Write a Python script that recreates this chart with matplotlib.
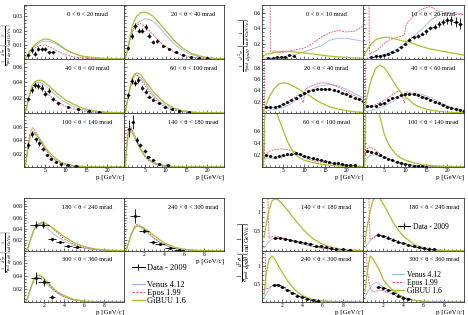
import numpy as np
import matplotlib.pyplot as plt
from matplotlib.lines import Line2D
from matplotlib.ticker import AutoMinorLocator, FormatStrFormatter

plt.rcParams['font.family'] = ['Liberation Serif', 'DejaVu Serif']
plt.rcParams['mathtext.fontset'] = 'stix'

nan = np.nan

# momentum grids used by the model curves
p_tl = [0.3, 0.6, 1, 1.5, 2, 2.5, 3, 4, 5, 6, 7, 8, 9, 10, 12, 14, 16, 18, 20, 22, 24]
p_tr = [0.3, 0.6, 1, 1.5, 2, 3, 4, 5, 6, 7, 8, 9, 9.8, 10.3, 11, 12, 13, 14, 16, 18, 20, 22, 24]
p_bot = [0.2, 0.4, 0.7, 1.0, 1.3, 1.6, 2.0, 2.5, 3.0, 3.5, 4.0, 5.0, 6.0, 7.0, 8.0, 9.0, 10.0]

# ---------------- top left group ----------------
# 0 < theta < 20 mrad
tl1_gibuu = [0, 0.0018, 0.004, 0.006, 0.008, 0.0095, 0.011, 0.013, 0.014, 0.0138, 0.0125, 0.011, 0.0088, 0.0068, 0.0038, 0.002, 0.0012, 0.0006, 0.0003, 0.0001, 0]
tl1_venus = [0, 0.0015, 0.0035, 0.0053, 0.0072, 0.0087, 0.010, 0.0118, 0.0126, 0.0125, 0.0115, 0.010, 0.0082, 0.0064, 0.0036, 0.0019, 0.001, 0.0005, 0.0002, 0.0001, 0]
tl1_epos = [0, 0.0013, 0.003, 0.0045, 0.006, 0.0073, 0.0085, 0.0096, 0.0098, 0.0088, 0.0072, 0.0056, 0.0042, 0.003, 0.0015, 0.0007, 0.0003, 0.0001, 0, 0, 0]
tl1_p = [1.0, 1.8, 2.6, 3.4, 4.2, 5.0, 6.0, 7.0]
tl1_y = [0.0025, 0.0064, 0.0038, 0.0070, 0.0070, 0.0070, 0.0046, 0.0046]
tl1_ey = [0.0012, 0.0022, 0.0015, 0.0015, 0.0015, 0.0015, 0.0012, 0.0012]

# 20 < theta < 40 mrad
tl2_gibuu = [0, 0.004, 0.009, 0.016, 0.023, 0.027, 0.030, 0.0325, 0.033, 0.032, 0.030, 0.027, 0.0235, 0.020, 0.013, 0.0078, 0.0042, 0.0022, 0.001, 0.0004, 0.0001]
tl2_venus = [0, 0.0035, 0.008, 0.0135, 0.019, 0.0225, 0.025, 0.027, 0.0282, 0.028, 0.0265, 0.024, 0.0205, 0.017, 0.0108, 0.0062, 0.0033, 0.0016, 0.0007, 0.0003, 0.0001]
tl2_epos = [0, 0.0035, 0.008, 0.014, 0.019, 0.022, 0.024, 0.025, 0.023, 0.020, 0.017, 0.014, 0.011, 0.0085, 0.005, 0.0028, 0.0015, 0.0007, 0.0003, 0.0001, 0]
tl2_p = [0.9, 1.8, 2.6, 3.6, 4.4, 5.2, 6.0, 6.9, 8.0, 9.4, 10.9, 12.5, 14.2, 16.0, 18.0, 20.0]
tl2_y = [0.0075, 0.016, 0.023, 0.020, 0.020, 0.0225, 0.0165, 0.0122, 0.0128, 0.0092, 0.007, 0.005, 0.0028, 0.0013, 0.0007, 0.0004]
tl2_ey = [0.0015, 0.002, 0.002, 0.002, 0.002, 0.002, 0.002, 0.0015, 0.0012, 0.001, 0.0008, 0.0006, 0.0005, 0.0004, 0.0003, 0.0003]

# 40 < theta < 60 mrad
tl3_gibuu = [0, 0.008, 0.017, 0.028, 0.036, 0.040, 0.042, 0.0425, 0.0395, 0.035, 0.030, 0.025, 0.021, 0.017, 0.011, 0.0065, 0.0037, 0.002, 0.001, 0.0005, 0.0002]
tl3_venus = [0, 0.007, 0.015, 0.025, 0.033, 0.037, 0.039, 0.0395, 0.036, 0.031, 0.026, 0.021, 0.017, 0.0135, 0.008, 0.0045, 0.0024, 0.0012, 0.0006, 0.0003, 0.0001]
tl3_epos = [0, 0.007, 0.016, 0.025, 0.032, 0.034, 0.035, 0.032, 0.028, 0.023, 0.019, 0.015, 0.0115, 0.0088, 0.005, 0.0027, 0.0014, 0.0007, 0.0003, 0.0001, 0]
tl3_p = [1.0, 1.8, 2.6, 3.4, 4.2, 5.0, 5.9, 6.9, 8.2, 10.6, 13.0, 15.5, 18.0]
tl3_y = [0.018, 0.030, 0.036, 0.035, 0.033, 0.025, 0.029, 0.018, 0.0126, 0.0074, 0.0048, 0.002, 0.001]
tl3_ey = [0.003, 0.004, 0.004, 0.004, 0.004, 0.003, 0.003, 0.003, 0.002, 0.0012, 0.001, 0.0008, 0.0006]

# 60 < theta < 100 mrad
tl4_gibuu = [0, 0.009, 0.021, 0.034, 0.045, 0.050, 0.052, 0.050, 0.042, 0.035, 0.028, 0.022, 0.017, 0.0125, 0.0065, 0.003, 0.0014, 0.0006, 0.0003, 0.0001, 0]
tl4_venus = [0, 0.009, 0.020, 0.032, 0.042, 0.047, 0.049, 0.046, 0.039, 0.031, 0.024, 0.018, 0.0135, 0.0098, 0.005, 0.0024, 0.0011, 0.0005, 0.0002, 0.0001, 0]
tl4_epos = [0, 0.010, 0.022, 0.035, 0.046, 0.050, 0.050, 0.044, 0.036, 0.028, 0.021, 0.015, 0.011, 0.0075, 0.0036, 0.0016, 0.0007, 0.0003, 0.0001, 0, 0]
tl4_p = [1.0, 1.8, 2.6, 3.4, 4.4, 5.2, 6.0, 7.0, 8.4, 9.8, 11.4, 13.3, 15.5]
tl4_y = [0.023, 0.042, 0.039, 0.043, 0.033, 0.0276, 0.021, 0.017, 0.0126, 0.0082, 0.0056, 0.003, 0.0015]
tl4_ey = [0.003, 0.004, 0.004, 0.004, 0.003, 0.003, 0.002, 0.002, 0.0015, 0.0012, 0.001, 0.0008, 0.0006]

# 100 < theta < 140 mrad
tl5_gibuu = [0, 0.012, 0.030, 0.045, 0.051, 0.050, 0.048, 0.040, 0.030, 0.022, 0.016, 0.011, 0.007, 0.0048, 0.002, 0.0008, 0.0003, 0.0001, 0, 0, 0]
tl5_venus = [0, 0.013, 0.032, 0.047, 0.053, 0.051, 0.047, 0.037, 0.027, 0.019, 0.013, 0.0085, 0.0055, 0.0035, 0.0014, 0.0005, 0.0002, 0.0001, 0, 0, 0]
tl5_epos = [0, 0.014, 0.035, 0.052, 0.058, 0.056, 0.050, 0.038, 0.027, 0.018, 0.012, 0.008, 0.005, 0.003, 0.0011, 0.0004, 0.0001, 0, 0, 0, 0]
tl5_p = [1.0, 2.0, 2.8, 3.7, 4.5, 5.4, 6.4, 7.6, 8.8, 10.5, 12.5]
tl5_y = [0.0326, 0.049, 0.041, 0.035, 0.026, 0.0178, 0.0123, 0.0074, 0.005, 0.0025, 0.001]
tl5_ey = [0.005, 0.004, 0.004, 0.004, 0.003, 0.002, 0.002, 0.0015, 0.001, 0.0008, 0.0006]

# 140 < theta < 180 mrad
tl6_gibuu = [0, 0.025, 0.048, 0.053, 0.050, 0.045, 0.038, 0.026, 0.017, 0.011, 0.007, 0.0045, 0.003, 0.0018, 0.0005, 0.0001, 0, 0, 0, 0, 0]
tl6_venus = [0, 0.027, 0.051, 0.056, 0.052, 0.046, 0.039, 0.026, 0.016, 0.010, 0.006, 0.0035, 0.002, 0.0012, 0.0003, 0.0001, 0, 0, 0, 0, 0]
tl6_epos = [0, 0.030, 0.055, 0.060, 0.055, 0.048, 0.040, 0.026, 0.015, 0.009, 0.0055, 0.003, 0.0017, 0.001, 0.0003, 0.0001, 0, 0, 0, 0, 0]
tl6_p = [1.2, 2.1, 3.0, 3.8, 5.0, 5.8, 7.0, 8.5, 10.5]
tl6_y = [0.057, 0.067, 0.040, 0.0326, 0.0237, 0.015, 0.010, 0.005, 0.0025]
tl6_ey = [0.013, 0.010, 0.004, 0.003, 0.003, 0.002, 0.0015, 0.001, 0.001]

# ---------------- top right group ----------------
# 0 < theta < 10 mrad
tr1_gibuu = [0.03, 0.05, 0.06, 0.065, 0.07, 0.085, 0.095, 0.10, 0.10, 0.095, 0.09, 0.085, 0.08, 0.077, 0.072, 0.065, 0.058, 0.05, 0.038, 0.028, 0.02, 0.014, 0.01]
tr1_venus = [0, 0.002, 0.005, 0.008, 0.01, 0.015, 0.02, 0.03, 0.04, 0.05, 0.06, 0.075, 0.09, 0.1, 0.11, 0.13, 0.15, 0.17, 0.24, 0.27, 0.27, 0.25, 0.23]
tr1_epos = [nan, nan, nan, 5, 0.07, 0.11, 0.08, 0.085, 0.095, 0.11, 0.12, 0.13, 0.14, 0.15, 0.17, 0.2, 0.24, 0.28, 0.34, 0.37, 0.35, 0.36, 0.43]
tr1_p = [1.5, 2.5, 3.5, 4.5, 5.5, 6.5, 7.5]
tr1_y = [0.015, 0.015, 0.02, 0.025, 0.03, 0.05, 0.04]
tr1_ey = [0.005, 0.005, 0.005, 0.005, 0.006, 0.008, 0.008]

# 10 < theta < 20 mrad
tr2_gibuu = [0.05, 0.09, 0.12, 0.16, 0.2, 0.25, 0.27, 0.28, 0.28, 0.27, 0.255, 0.24, 0.23, 0.225, 0.22, 0.2, 0.18, 0.16, 0.13, 0.11, 0.09, 0.07, 0.05]
tr2_venus = [0, 0.005, 0.01, 0.015, 0.02, 0.03, 0.045, 0.06, 0.08, 0.1, 0.13, 0.16, 0.19, 0.21, 0.24, 0.29, 0.34, 0.39, 0.5, 0.57, 0.6, 0.6, 0.58]
tr2_epos = [nan, nan, 5, 0.06, 0.08, 0.1, 0.15, 0.2, 0.24, 0.26, 0.28, 0.29, 0.31, 0.45, 0.5, 0.56, 0.61, 0.65, 0.68, 0.62, 0.6, 0.58, 0.57]
tr2_p = [2, 3, 4, 5, 6, 7, 8, 9, 10, 11, 12, 13, 14, 15, 16, 17, 18, 19, 20, 21, 22, 23]
tr2_y = [0.03, 0.035, 0.045, 0.055, 0.07, 0.09, 0.12, 0.15, 0.2, 0.25, 0.28, 0.3, 0.33, 0.36, 0.4, 0.42, 0.45, 0.48, 0.5, 0.5, 0.48, 0.46]
tr2_ey = [0.01, 0.01, 0.01, 0.01, 0.01, 0.015, 0.015, 0.02, 0.02, 0.02, 0.02, 0.025, 0.025, 0.03, 0.03, 0.035, 0.04, 0.045, 0.05, 0.055, 0.06, 0.07]

# 20 < theta < 40 mrad
tr3_gibuu = [0.03, 0.08, 0.15, 0.24, 0.32, 0.44, 0.51, 0.53, 0.52, 0.49, 0.45, 0.41, 0.37, 0.35, 0.32, 0.27, 0.22, 0.18, 0.11, 0.07, 0.04, 0.02, 0.01]
tr3_venus = [0, 0.02, 0.03, 0.04, 0.05, 0.065, 0.08, 0.1, 0.13, 0.17, 0.22, 0.27, 0.31, 0.33, 0.37, 0.42, 0.46, 0.48, 0.5, 0.48, 0.42, 0.34, 0.27]
tr3_epos = [5, 0.07, 0.08, 0.09, 0.09, 0.1, 0.12, 0.15, 0.19, 0.24, 0.29, 0.33, 0.18, 0.42, 0.45, 0.48, 0.51, 0.53, 0.52, 0.46, 0.38, 0.3, 0.22]
tr3_p = list(range(1, 25))
tr3_y = [0.1, 0.1, 0.11, 0.13, 0.16, 0.19, 0.23, 0.27, 0.31, 0.35, 0.38, 0.41, 0.42, 0.43, 0.43, 0.42, 0.41, 0.39, 0.36, 0.33, 0.30, 0.27, 0.24, 0.21]
tr3_ey = [0.012] * 24

# 40 < theta < 60 mrad
tr4_gibuu = [0.05, 0.15, 0.3, 0.46, 0.6, 0.78, 0.84, 0.8, 0.7, 0.58, 0.46, 0.36, 0.3, 0.27, 0.23, 0.16, 0.12, 0.09, 0.05, 0.03, 0.015, 0.008, 0.005]
tr4_venus = [0, 0.02, 0.03, 0.04, 0.05, 0.07, 0.09, 0.12, 0.16, 0.2, 0.25, 0.29, 0.31, 0.32, 0.34, 0.35, 0.34, 0.33, 0.27, 0.2, 0.13, 0.08, 0.05]
tr4_epos = [5, 0.08, 0.1, 0.11, 0.12, 0.15, 0.18, 0.22, 0.27, 0.32, 0.37, 0.39, 0.18, 0.37, 0.36, 0.34, 0.32, 0.3, 0.24, 0.17, 0.11, 0.07, 0.04]
tr4_p = list(range(1, 25))
tr4_y = [0.12, 0.12, 0.13, 0.15, 0.18, 0.22, 0.26, 0.29, 0.32, 0.33, 0.34, 0.33, 0.31, 0.29, 0.26, 0.23, 0.2, 0.17, 0.14, 0.11, 0.09, 0.07, 0.05, 0.04]
tr4_ey = [0.012] * 24

# 60 < theta < 100 mrad
tr5_gibuu = [0, 0.75, 1.1, 1.25, 1.2, 1.0, 0.8, 0.62, 0.43, 0.3, 0.2, 0.15, 0.12, 0.11, 0.095, 0.075, 0.06, 0.045, 0.03, 0.018, 0.01, 0.006, 0.004]
tr5_venus = [0.1, 0.13, 0.15, 0.15, 0.145, 0.14, 0.15, 0.17, 0.19, 0.2, 0.21, 0.2, 0.18, 0.17, 0.15, 0.13, 0.11, 0.1, 0.075, 0.055, 0.035, 0.02, 0.012]
tr5_epos = [5, 0.15, 0.2, 0.25, 0.27, 0.29, 0.3, 0.3, 0.29, 0.27, 0.25, 0.2, 0.17, 0.15, 0.13, 0.11, 0.09, 0.08, 0.06, 0.04, 0.025, 0.015, 0.01]
tr5_p = list(range(1, 23))
tr5_y = [0.2, 0.18, 0.165, 0.18, 0.2, 0.215, 0.225, 0.235, 0.22, 0.19, 0.17, 0.15, 0.13, 0.11, 0.095, 0.08, 0.07, 0.06, 0.05, 0.04, 0.03, 0.03]
tr5_ey = [0.01] * 22

# 100 < theta < 140 mrad
tr6_gibuu = [0, 0.9, 1.4, 1.55, 1.5, 1.2, 0.85, 0.56, 0.39, 0.28, 0.2, 0.15, 0.12, 0.11, 0.09, 0.07, 0.055, 0.04, 0.025, 0.015, 0.01, 0.006, 0.004]
tr6_venus = [0.05, 0.1, 0.15, 0.18, 0.2, 0.2, 0.18, 0.155, 0.13, 0.1, 0.08, 0.065, 0.055, 0.05, 0.04, 0.032, 0.025, 0.02, 0.01, 0.005, 0.003, 0.002, 0.001]
tr6_epos = [5, 0.2, 0.3, 0.33, 0.32, 0.28, 0.22, 0.17, 0.14, 0.11, 0.09, 0.07, 0.055, 0.05, 0.04, 0.03, 0.022, 0.015, 0.01, 0.005, 0.003, 0.002, 0.001]
tr6_p = list(range(1, 16))
tr6_y = [0.27, 0.25, 0.23, 0.2, 0.17, 0.14, 0.11, 0.085, 0.065, 0.05, 0.035, 0.025, 0.018, 0.012, 0.008]
tr6_ey = [0.01] * 15

# ---------------- bottom left group ----------------
# 180 < theta < 240 mrad
bl1_gibuu = [0, 0.006, 0.022, 0.038, 0.046, 0.05, 0.05, 0.046, 0.04, 0.033, 0.026, 0.015, 0.008, 0.004, 0.002, 0.001, 0.0005]
bl1_venus = [0, 0.007, 0.025, 0.040, 0.046, 0.048, 0.045, 0.038, 0.030, 0.024, 0.018, 0.01, 0.005, 0.0025, 0.001, 0.0005, 0.0002]
bl1_epos = [0, 0.006, 0.022, 0.038, 0.046, 0.05, 0.052, 0.046, 0.038, 0.030, 0.022, 0.012, 0.006, 0.003, 0.0013, 0.0005, 0.0002]
bl1_p = [1.2, 1.9, 2.8, 3.6, 4.4, 5.3]
bl1_y = [0.047, 0.047, 0.021, 0.0156, 0.0095, 0.0068]
bl1_ey = [0.006, 0.006, 0.003, 0.002, 0.0015, 0.0012]
bl1_ex = [0.6, 0.55, 0.4, 0.4, 0.4, 0.4]

# 240 < theta < 300 mrad
bl2_gibuu = [0, 0.012, 0.028, 0.04, 0.045, 0.044, 0.041, 0.035, 0.028, 0.021, 0.015, 0.007, 0.003, 0.0015, 0.0007, 0.0003, 0.0001]
bl2_venus = [0, 0.012, 0.03, 0.041, 0.045, 0.043, 0.038, 0.030, 0.022, 0.016, 0.011, 0.005, 0.002, 0.001, 0.0004, 0.0002, 0]
bl2_epos = [0, 0.012, 0.03, 0.043, 0.048, 0.046, 0.040, 0.032, 0.024, 0.017, 0.012, 0.005, 0.002, 0.001, 0.0004, 0.0002, 0]
bl2_p = [1.1, 2.0, 2.9, 3.6, 4.6, 5.5]
bl2_y = [0.063, 0.036, 0.0156, 0.012, 0.0048, 0.002]
bl2_ey = [0.012, 0.004, 0.003, 0.002, 0.0015, 0.001]
bl2_ex = [0.5, 0.5, 0.4, 0.5, 0.5, 0.5]

# 300 < theta < 360 mrad
bl3_gibuu = [0, 0.008, 0.022, 0.035, 0.04, 0.041, 0.036, 0.028, 0.02, 0.014, 0.01, 0.004, 0.0015, 0.0006, 0.0002, 0.0001, 0]
bl3_venus = [0, 0.008, 0.022, 0.033, 0.038, 0.037, 0.032, 0.024, 0.017, 0.012, 0.008, 0.003, 0.0012, 0.0005, 0.0002, 0.0001, 0]
bl3_epos = [0, 0.008, 0.023, 0.036, 0.041, 0.04, 0.035, 0.026, 0.018, 0.012, 0.008, 0.003, 0.0011, 0.0004, 0.0002, 0.0001, 0]
bl3_p = [1.2, 2.0, 2.8]
bl3_y = [0.037, 0.030, 0.008]
bl3_ey = [0.009, 0.005, 0.003]
bl3_ex = [0.5, 0.6, 0.3]

# ---------------- bottom right group ----------------
# 140 < theta < 180 mrad
br1_gibuu = [0.35, 0.65, 1.05, 1.28, 1.33, 1.3, 1.2, 1.05, 0.88, 0.72, 0.57, 0.32, 0.17, 0.085, 0.04, 0.02, 0.01]
br1_venus = [0.08, 0.15, 0.25, 0.3, 0.34, 0.35, 0.32, 0.29, 0.25, 0.21, 0.18, 0.11, 0.07, 0.04, 0.02, 0.01, 0.005]
br1_epos = [nan, 3, 0.33, 0.37, 0.38, 0.37, 0.34, 0.3, 0.26, 0.22, 0.18, 0.12, 0.07, 0.04, 0.02, 0.01, 0.005]
br1_p = [1.3, 1.8, 2.3, 2.8, 3.3, 3.8, 4.3, 4.8, 5.3, 5.8, 6.3, 6.8, 7.3, 8.0, 8.7]
br1_y = [0.34, 0.32, 0.30, 0.28, 0.25, 0.23, 0.2, 0.17, 0.14, 0.12, 0.1, 0.08, 0.06, 0.04, 0.03]
br1_ey = [0.025] * 15

# 180 < theta < 240 mrad
br2_gibuu = [0.2, 0.6, 1.0, 1.3, 1.38, 1.37, 1.2, 0.97, 0.72, 0.53, 0.38, 0.17, 0.08, 0.035, 0.015, 0.006, 0.003]
br2_venus = [0.08, 0.15, 0.26, 0.35, 0.4, 0.4, 0.37, 0.32, 0.27, 0.22, 0.17, 0.1, 0.05, 0.025, 0.012, 0.006, 0.003]
br2_epos = [nan, 3, 0.3, 0.32, 0.38, 0.42, 0.38, 0.33, 0.28, 0.23, 0.18, 0.11, 0.06, 0.03, 0.015, 0.007, 0.003]
br2_p = [1.5, 2.0, 2.5, 3.0, 3.5, 4.0, 4.5, 5.0, 5.5, 6.0, 6.5, 7.0]
br2_y = [0.42, 0.38, 0.34, 0.29, 0.24, 0.2, 0.16, 0.13, 0.1, 0.08, 0.06, 0.045]
br2_ey = [0.03] * 12

# 240 < theta < 300 mrad
br3_gibuu = [0.2, 0.75, 1.2, 1.28, 1.18, 1.02, 0.82, 0.6, 0.42, 0.28, 0.18, 0.07, 0.03, 0.01, 0.005, 0.002, 0.001]
br3_venus = [0.12, 0.22, 0.35, 0.45, 0.5, 0.48, 0.42, 0.34, 0.26, 0.19, 0.14, 0.07, 0.03, 0.015, 0.007, 0.003, 0.001]
br3_epos = [3, 0.35, 0.4, 0.45, 0.48, 0.47, 0.42, 0.33, 0.25, 0.18, 0.13, 0.06, 0.03, 0.013, 0.006, 0.003, 0.001]
br3_p = [1.2, 1.6, 2.0, 2.5, 3.0, 3.5, 4.0, 4.5, 5.0, 5.5]
br3_y = [0.48, 0.47, 0.42, 0.33, 0.25, 0.18, 0.13, 0.09, 0.06, 0.04]
br3_ey = [0.03] * 10

# 300 < theta < 360 mrad
br4_gibuu = [0.3, 0.8, 1.28, 1.2, 1.05, 0.9, 0.62, 0.45, 0.32, 0.22, 0.14, 0.05, 0.02, 0.008, 0.003, 0.001, 0]
br4_venus = [0.15, 0.25, 0.4, 0.5, 0.55, 0.5, 0.42, 0.32, 0.24, 0.17, 0.12, 0.05, 0.02, 0.008, 0.003, 0.001, 0]
br4_epos = [3, 0.9, 0.4, 0.28, 0.3, 0.33, 0.32, 0.26, 0.2, 0.14, 0.1, 0.05, 0.02, 0.008, 0.003, 0.001, 0]
br4_p = [1.5, 2.0, 2.5, 3.0, 3.5, 4.0, 4.5]
br4_y = [0.42, 0.38, 0.33, 0.25, 0.18, 0.12, 0.08]
br4_ey = [0.035] * 7

C_VENUS = '#9bb8e6'
C_EPOS = '#e8506e'
C_GIBUU = '#a7c22a'

W, H = 468, 315
fig = plt.figure(figsize=(W / 100, H / 100), dpi=100)


def box(x0, y0, x1, y1):
    # pixel box -> figure fraction rect
    return [x0 / W, 1 - y1 / H, (x1 - x0) / W, (y1 - y0) / H]


def panel(rect, grid, venus, epos, gibuu, dp, dy, dey, dex, title, tx,
          xlim, ylim, xt, yt, xlab=False, ylab=False, xminor=5):
    ax = fig.add_axes(rect)
    ax.plot(grid, venus, color=C_VENUS, lw=0.6)
    ax.plot(grid, epos, color=C_EPOS, lw=0.6, ls=(0, (2.2, 1.2)))
    ax.plot(grid, gibuu, color=C_GIBUU, lw=0.9)
    ax.errorbar(dp, dy, yerr=dey, xerr=dex, fmt='o', ms=1.2, color='k',
                elinewidth=0.6, capsize=0)
    ax.text(tx, 0.83, title, transform=ax.transAxes, ha='center',
            va='center', fontsize=4.6)
    ax.set_xlim(*xlim)
    ax.set_ylim(*ylim)
    ax.set_xticks(xt)
    ax.set_yticks(yt)
    ax.yaxis.set_major_formatter(FormatStrFormatter('%g'))
    ax.xaxis.set_minor_locator(AutoMinorLocator(xminor))
    ax.yaxis.set_minor_locator(AutoMinorLocator(4))
    ax.tick_params(which='both', direction='in', width=0.4, labelsize=4, pad=1.0)
    ax.tick_params(which='major', length=2.5)
    ax.tick_params(which='minor', length=1.2)
    if not xlab:
        ax.set_xticklabels([])
    else:
        ax.set_xlabel('p [GeV/c]', loc='right', fontsize=5, labelpad=0.5)
    if not ylab:
        ax.set_yticklabels([])
    for s in ax.spines.values():
        s.set_linewidth(0.6)
        s.set_color('#333333')
    return ax


# top left
xtl = (0, 24)
xt_top = [5, 10, 15, 20]
panel(box(24, 5, 124, 59), p_tl, tl1_venus, tl1_epos, tl1_gibuu, tl1_p, tl1_y, tl1_ey, 0.4,
      r'0 < θ < 20 mrad', 0.635, xtl, (0, 0.038), xt_top, [0.01, 0.02, 0.03], ylab=True)
panel(box(124, 5, 224, 59), p_tl, tl2_venus, tl2_epos, tl2_gibuu, tl2_p, tl2_y, tl2_ey, 0.4,
      r'20 < θ < 40 mrad', 0.695, xtl, (0, 0.038), xt_top, [0.01, 0.02, 0.03])
panel(box(24, 59, 124, 113), p_tl, tl3_venus, tl3_epos, tl3_gibuu, tl3_p, tl3_y, tl3_ey, 0.4,
      r'40 < θ < 60 mrad', 0.635, xtl, (0, 0.07), xt_top, [0.02, 0.04, 0.06], ylab=True)
panel(box(124, 59, 224, 113), p_tl, tl4_venus, tl4_epos, tl4_gibuu, tl4_p, tl4_y, tl4_ey, 0.4,
      r'60 < θ < 100 mrad', 0.695, xtl, (0, 0.07), xt_top, [0.02, 0.04, 0.06])
panel(box(24, 113, 124, 167), p_tl, tl5_venus, tl5_epos, tl5_gibuu, tl5_p, tl5_y, tl5_ey, 0.4,
      r'100 < θ < 140 mrad', 0.635, xtl, (0, 0.08), xt_top, [0.02, 0.04, 0.06], xlab=True, ylab=True)
panel(box(124, 113, 224, 167), p_tl, tl6_venus, tl6_epos, tl6_gibuu, tl6_p, tl6_y, tl6_ey, 0.4,
      r'140 < θ < 180 mrad', 0.695, xtl, (0, 0.08), xt_top, [0.02, 0.04, 0.06], xlab=True)

# top right
panel(box(262, 5, 363, 59), p_tr, tr1_venus, tr1_epos, tr1_gibuu, tr1_p, tr1_y, tr1_ey, 0.4,
      r'0 < θ < 10 mrad', 0.635, xtl, (0, 0.7), xt_top, [0.2, 0.4, 0.6], ylab=True)
panel(box(363, 5, 464, 59), p_tr, tr2_venus, tr2_epos, tr2_gibuu, tr2_p, tr2_y, tr2_ey, 0.5,
      r'10 < θ < 20 mrad', 0.695, xtl, (0, 0.7), xt_top, [0.2, 0.4, 0.6])
panel(box(262, 59, 363, 113), p_tr, tr3_venus, tr3_epos, tr3_gibuu, tr3_p, tr3_y, tr3_ey, 0.4,
      r'20 < θ < 40 mrad', 0.635, xtl, (0, 0.95), xt_top, [0.2, 0.4, 0.6, 0.8], ylab=True)
panel(box(363, 59, 464, 113), p_tr, tr4_venus, tr4_epos, tr4_gibuu, tr4_p, tr4_y, tr4_ey, 0.4,
      r'40 < θ < 60 mrad', 0.695, xtl, (0, 0.95), xt_top, [0.2, 0.4, 0.6, 0.8])
panel(box(262, 113, 363, 167), p_tr, tr5_venus, tr5_epos, tr5_gibuu, tr5_p, tr5_y, tr5_ey, 0.4,
      r'60 < θ < 100 mrad', 0.635, xtl, (0, 0.9), xt_top, [0.2, 0.4, 0.6], xlab=True, ylab=True)
panel(box(363, 113, 464, 167), p_tr, tr6_venus, tr6_epos, tr6_gibuu, tr6_p, tr6_y, tr6_ey, 0.4,
      r'100 < θ < 140 mrad', 0.695, xtl, (0, 0.9), xt_top, [0.2, 0.4, 0.6], xlab=True)

# bottom left
xb = (0, 10)
xt_bot = [2, 4, 6, 8]
panel(box(24, 198, 124, 251), p_bot, bl1_venus, bl1_epos, bl1_gibuu, bl1_p, bl1_y, bl1_ey, bl1_ex,
      r'180 < θ < 240 mrad', 0.63, xb, (0, 0.095), xt_bot, [0.02, 0.04, 0.06, 0.08], ylab=True)
panel(box(124, 198, 224, 251), p_bot, bl2_venus, bl2_epos, bl2_gibuu, bl2_p, bl2_y, bl2_ey, bl2_ex,
      r'240 < θ < 300 mrad', 0.69, xb, (0, 0.095), xt_bot, [0.02, 0.04, 0.06, 0.08], xlab=True)
panel(box(24, 251, 124, 302), p_bot, bl3_venus, bl3_epos, bl3_gibuu, bl3_p, bl3_y, bl3_ey, bl3_ex,
      r'300 < θ < 360 mrad', 0.63, xb, (0, 0.078), xt_bot, [0.02, 0.04, 0.06], xlab=True, ylab=True)

# bottom right
panel(box(262, 198, 363, 251), p_bot, br1_venus, br1_epos, br1_gibuu, br1_p, br1_y, br1_ey, 0.25,
      r'140 < θ < 180 mrad', 0.64, xb, (0, 1.35), xt_bot, [0.5, 1], ylab=True)
ax_br2 = panel(box(363, 198, 464, 251), p_bot, br2_venus, br2_epos, br2_gibuu, br2_p, br2_y, br2_ey, 0.25,
               r'180 < θ < 240 mrad', 0.70, xb, (0, 1.35), xt_bot, [0.5, 1])
panel(box(262, 251, 363, 302), p_bot, br3_venus, br3_epos, br3_gibuu, br3_p, br3_y, br3_ey, 0.25,
      r'240 < θ < 300 mrad', 0.64, xb, (0, 1.42), xt_bot, [0.5, 1], xlab=True, ylab=True)
ax_br4 = panel(box(363, 251, 464, 302), p_bot, br4_venus, br4_epos, br4_gibuu, br4_p, br4_y, br4_ey, 0.25,
               r'300 < θ < 360 mrad', 0.70, xb, (0, 1.42), xt_bot, [0.5, 1], xlab=True)

# y axis titles
ylabel = r'$\frac{1}{\sigma_{\mathrm{prod}}}\,\frac{d^{2}\sigma}{dp\,d\theta}\left[\frac{1}{\mathrm{rad\ GeV/c}}\right]$'
for (x, y, fs) in [(6.8, 45, 4.4), (245, 45, 5.6), (6.8, 252, 4.4), (244, 252, 6.2)]:
    fig.text(x / W, 1 - y / H, ylabel, rotation=90, ha='center', va='center', fontsize=fs)

# legends
h_data = Line2D([], [], color='k', lw=0.8, marker='|', ms=4, mew=0.8)
h_models = [Line2D([], [], color=C_VENUS, lw=0.8),
            Line2D([], [], color=C_EPOS, lw=0.8, ls=(0, (2.2, 1.2))),
            Line2D([], [], color=C_GIBUU, lw=1.0)]
l_models = ['Venus 4.12', 'Epos 1.99', 'GiBUU 1.6']

ax_leg = fig.add_axes(box(124, 251, 224, 302))
ax_leg.axis('off')
leg1 = ax_leg.legend([h_data], ['Data - 2009'], loc='center left', bbox_to_anchor=(0.0, 0.67),
                     frameon=False, fontsize=6, handlelength=1.6, handletextpad=0.3)
ax_leg.add_artist(leg1)
ax_leg.legend(h_models, l_models, loc='upper left', bbox_to_anchor=(0.0, 0.56),
              frameon=False, fontsize=6, handlelength=1.6, handletextpad=0.3, labelspacing=0.0)

ax_br2.legend([h_data], ['Data - 2009'], loc='center left', bbox_to_anchor=(0.28, 0.45),
              frameon=False, fontsize=5.5, handlelength=1.6, handletextpad=0.3)
ax_br4.legend(h_models, l_models, loc='upper left', bbox_to_anchor=(0.22, 0.74),
              frameon=False, fontsize=5.5, handlelength=1.6, handletextpad=0.3, labelspacing=0.0)

fig.savefig('out.png', dpi=100)
